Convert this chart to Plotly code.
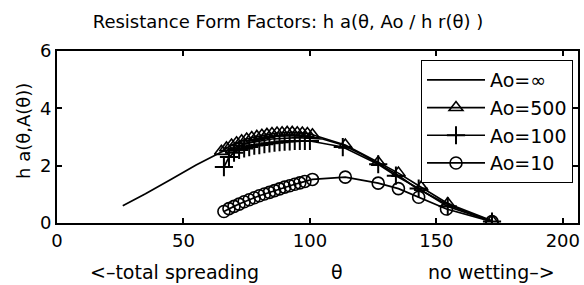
import plotly.graph_objects as go

# Ao = infinity (continuous curve)
x_inf = [26, 35, 45, 55, 65, 75, 85, 95, 105, 113, 120, 127, 134, 142, 155, 172]
y_inf = [0.6, 1.02, 1.52, 2.02, 2.48, 2.78, 2.93, 2.98, 2.93, 2.72, 2.42, 2.08, 1.72, 1.22, 0.62, 0.06]

# Ao = 500
x_500 = [65, 67, 69, 71, 73, 75, 77, 79, 81, 83, 85, 87, 89, 91, 93, 95, 97, 99, 101,
         114, 127, 135, 144, 154.5, 172]
y_500 = [2.5, 2.62, 2.72, 2.8, 2.87, 2.93, 2.98, 3.02, 3.06, 3.09, 3.12, 3.14, 3.15, 3.16,
         3.16, 3.15, 3.14, 3.12, 3.08, 2.72, 2.12, 1.74, 1.25, 0.68, 0.08]

# Ao = 100
x_100 = [66, 68, 70, 72, 74, 76, 78, 80, 82, 84, 86, 88, 90, 92, 94, 96, 98, 100,
         113, 127, 134, 143, 154.5, 172]
y_100 = [1.95, 2.3, 2.45, 2.55, 2.6, 2.65, 2.7, 2.72, 2.75, 2.78, 2.8, 2.82, 2.84, 2.85,
         2.86, 2.86, 2.86, 2.86, 2.65, 2.05, 1.65, 1.2, 0.58, 0.05]

# Ao = 10
x_10 = [66, 68, 70, 72, 74, 76, 78, 80, 82, 84, 86, 88, 90, 92, 94, 96, 98, 101,
        114, 127, 135, 143, 154, 172]
y_10 = [0.4, 0.5, 0.58, 0.66, 0.74, 0.81, 0.88, 0.95, 1.01, 1.07, 1.13, 1.19, 1.25, 1.3,
        1.35, 1.4, 1.45, 1.52, 1.6, 1.39, 1.2, 0.9, 0.49, 0.05]

x_ticks = [0, 50, 100, 150, 200]
y_ticks = [0, 2, 4, 6]

FONT = "DejaVu Sans, Liberation Sans, Arial, sans-serif"
L, R, T, B = 57, 6, 51, 62
PW = 584 - L - R
PH = 285 - T - B

fig = go.Figure()
fig.add_trace(go.Scatter(x=x_inf, y=y_inf, mode="lines", name="Ao=∞",
                         line=dict(color="black", width=1.7)))
fig.add_trace(go.Scatter(x=x_500, y=y_500, mode="lines+markers", name="Ao=500",
                         line=dict(color="black", width=1.7),
                         marker=dict(symbol="triangle-up-open", size=12, color="black",
                                     line=dict(width=1.6, color="black"))))
fig.add_trace(go.Scatter(x=x_100, y=y_100, mode="lines+markers", name="Ao=100",
                         line=dict(color="black", width=1.7),
                         marker=dict(symbol="cross-thin-open", size=13, color="black",
                                     line=dict(width=2, color="black"))))
fig.add_trace(go.Scatter(x=x_10, y=y_10, mode="lines+markers", name="Ao=10",
                         line=dict(color="black", width=1.7),
                         marker=dict(symbol="circle-open", size=12, color="black",
                                     line=dict(width=1.6, color="black"))))

axis_common = dict(showgrid=False, zeroline=False, showline=True, linecolor="black",
                   linewidth=2, mirror="ticks", ticks="inside", ticklen=5,
                   tickcolor="black", tickwidth=1.5, automargin=False,
                   tickfont=dict(family=FONT, size=18, color="black"))

fig.update_layout(
    width=584, height=285,
    margin=dict(l=L, r=R, t=T, b=B, autoexpand=False),
    paper_bgcolor="white", plot_bgcolor="white",
    title=dict(text="Resistance Form Factors: h a(θ, Ao / h r(θ) )",
               x=(288) / 584, xanchor="center", y=1 - 22 / 285, yanchor="middle",
               font=dict(family=FONT, size=18, color="black")),
    xaxis=dict(range=[0, 206], tickvals=x_ticks, **axis_common),
    yaxis=dict(range=[0, 6], tickvals=y_ticks, **axis_common),
    legend=dict(x=(573 - L) / PW, y=1 - (60 - T) / PH, xanchor="right", yanchor="top",
                bordercolor="black", borderwidth=1, bgcolor="white",
                font=dict(family=FONT, size=19, color="black"),
                itemwidth=58, tracegroupgap=0),
    showlegend=True,
)

fig.add_annotation(text="h a(θ,A(θ))", xref="paper", yref="paper",
                   x=(23 - L) / PW, y=1 - (131 - T) / PH, textangle=-90,
                   xanchor="center", yanchor="middle", showarrow=False,
                   font=dict(family=FONT, size=18, color="black"))
ty = -(272 - (T + PH)) / PH
fig.add_annotation(text="<–total spreading", xref="paper", yref="paper",
                   x=(174 - L) / PW, y=ty, xanchor="center", yanchor="middle",
                   showarrow=False, font=dict(family=FONT, size=19, color="black"))
fig.add_annotation(text="θ", xref="paper", yref="paper",
                   x=(337 - L) / PW, y=ty, xanchor="center", yanchor="middle",
                   showarrow=False, font=dict(family=FONT, size=19, color="black"))
fig.add_annotation(text="no wetting–>", xref="paper", yref="paper",
                   x=(491 - L) / PW, y=ty, xanchor="center", yanchor="middle",
                   showarrow=False, font=dict(family=FONT, size=19, color="black"))

fig.write_html("out.html", config={"displayModeBar": False},
               post_script="document.body.style.margin='0';document.body.style.padding='0';")
